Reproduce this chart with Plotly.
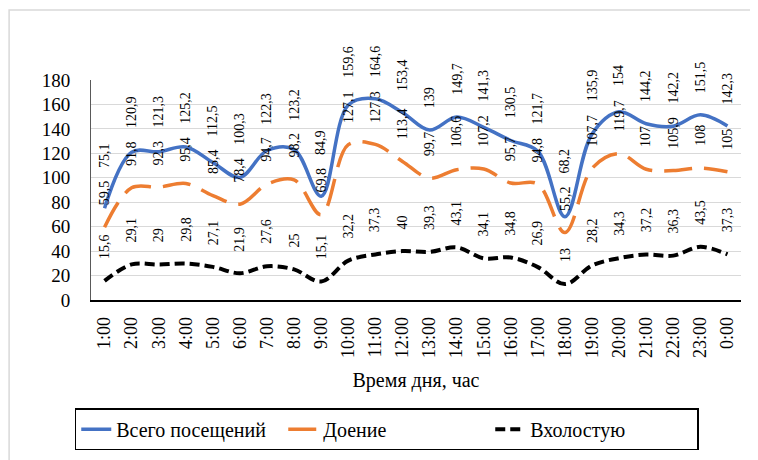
import plotly.graph_objects as go

# Время дня
hours = [f"{h}:00" for h in range(1, 24)] + ["0:00"]

# Значения рядов
total_visits = [75.1, 120.9, 121.3, 125.2, 112.5, 100.3, 122.3, 123.2, 84.9, 159.6, 164.6, 153.4,
                139, 149.7, 141.3, 130.5, 121.7, 68.2, 135.9, 154, 144.2, 142.2, 151.5, 142.3]
milking = [59.5, 91.8, 92.3, 95.4, 85.4, 78.4, 94.7, 98.2, 69.8, 127.1, 127.3, 113.4,
           99.7, 106.6, 107.2, 95.7, 94.8, 55.2, 107.7, 119.7, 107, 105.9, 108, 105]
idle = [15.6, 29.1, 29, 29.8, 27.1, 21.9, 27.6, 25, 15.1, 32.2, 37.3, 40,
        39.3, 43.1, 34.1, 34.8, 26.9, 13, 28.2, 34.3, 37.2, 36.3, 43.5, 37.3]

y_ticks = [0, 20, 40, 60, 80, 100, 120, 140, 160, 180]

# serif first; falls back to Liberation Sans when no serif face is present
FONT = "Liberation Serif, Liberation Sans, sans-serif"
LABEL_SIZE = 14
PX_PER_UNIT = 220 / 180  # plot height / y range


def fmt(v):
    return f"{v:g}".replace(".", ",")


def text_len_px(s):
    # rotated label height in pixels (approx.)
    return sum(0.28 if c == "," else 0.56 for c in s) * LABEL_SIZE + 4


series = [
    ("Всего посещений", total_visits, dict(color="#4472C4", width=3.5)),
    ("Доение", milking, dict(color="#ED7D31", width=3.5, dash="28px,12px")),
    ("Вхолостую", idle, dict(color="#000000", width=4, dash="10px,5px")),
]

fig = go.Figure()
for name, vals, line in series:
    fig.add_trace(go.Scatter(
        x=hours, y=vals, name=name, mode="lines",
        line=dict(shape="spline", smoothing=1, **line),
    ))

# data labels, pushed upward (in px) when they would collide with the label below
shift = 20
gap = 6
annotations = []
for i, h in enumerate(hours):
    prev_top = None  # pixels above the zero line
    for vals in (idle, milking, total_visits):
        s = fmt(vals[i])
        base = vals[i] * PX_PER_UNIT
        bottom = base + shift
        if prev_top is not None:
            bottom = max(bottom, prev_top + gap)
        prev_top = bottom + text_len_px(s)
        annotations.append(dict(
            x=h, y=vals[i], xref="x", yref="y", text=s, showarrow=False,
            yshift=bottom - base, textangle=-90, yanchor="bottom", xanchor="center",
            font=dict(family=FONT, size=LABEL_SIZE, color="#000000"),
        ))

# the page body adds an 8px offset, so the figure is a bit smaller
fig.update_layout(
    width=750, height=452,
    margin=dict(l=83, r=17, t=72, b=160, autoexpand=False),
    paper_bgcolor="white", plot_bgcolor="white",
    font=dict(family=FONT, color="#000000"),
    showlegend=True,
    legend=dict(
        orientation="h", x=0.455, xanchor="center",
        y=-0.492, yanchor="top",
        font=dict(family=FONT, size=20, color="#000000"),
        bordercolor="#000000", borderwidth=1.5,
        entrywidth=162,
    ),
    annotations=annotations,
    shapes=[dict(
        type="rect", xref="paper", yref="paper",
        x0=-0.126, x1=1.05, y0=-0.8, y1=1.318,
        line=dict(color="#D9D9D9", width=1.5),
    )],
)

fig.update_xaxes(
    type="category", range=[-0.5, 23.5],
    tickangle=-90, ticks="", ticklabelstandoff=8,
    tickfont=dict(family=FONT, size=18, color="#000000"),
    showgrid=False, showline=True, linecolor="#000000", linewidth=1.5,
    title=dict(text="Время дня, час", font=dict(family=FONT, size=20), standoff=16),
)

fig.update_yaxes(
    range=[0, 180], tickvals=y_ticks, ticks="", ticklabelstandoff=16,
    tickfont=dict(family=FONT, size=19, color="#000000"),
    showgrid=True, gridcolor="#D9D9D9", gridwidth=1,
    showline=True, linecolor="#595959", linewidth=1,
    zeroline=False,
)

fig.write_html("out.html", config={"displayModeBar": False})
